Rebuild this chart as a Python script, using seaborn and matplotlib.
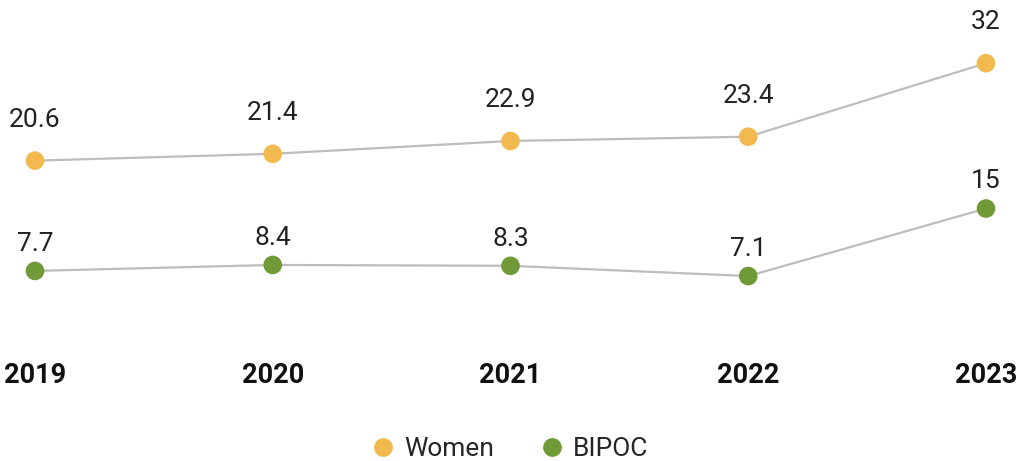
import matplotlib
matplotlib.use("Agg")
import matplotlib.pyplot as plt
import seaborn as sns
import pandas as pd
from matplotlib.lines import Line2D

years = ["2019", "2020", "2021", "2022", "2023"]
women = [20.6, 21.4, 22.9, 23.4, 32]
bipoc = [7.7, 8.4, 8.3, 7.1, 15]
series_names = ["Women", "BIPOC"]
colors = {"Women": "#F2B94F", "BIPOC": "#6F9A37"}

df = pd.DataFrame({
    "year": years * 2,
    "pos": list(range(len(years))) * 2,
    "value": women + bipoc,
    "series": ["Women"] * len(years) + ["BIPOC"] * len(years),
})

sns.set_theme(style="white")
plt.rcParams["font.family"] = ["Roboto", "DejaVu Sans"]

fig = plt.figure(figsize=(10.18, 4.61), dpi=100)
ax = fig.add_axes([0, 1 - 356 / 461, 1, 356 / 461])

for name in series_names:
    sub = df[df["series"] == name]
    sns.lineplot(data=sub, x="pos", y="value", color="#BDBDBD", linewidth=1.6,
                 ax=ax, legend=False, zorder=1)
sns.scatterplot(data=df, x="pos", y="value", hue="series", palette=colors,
                s=180, linewidth=0, ax=ax, legend=False, zorder=3, clip_on=False)

offsets = {"Women": 24.5, "BIPOC": 14.5}
for _, r in df.iterrows():
    v = r["value"]
    txt = f"{v:g}"
    ax.annotate(txt, (r["pos"], v), xytext=(0, offsets[r["series"]]),
                textcoords="offset points", ha="center", va="baseline",
                fontsize=19, color="#222222")

px_per_unit = (986 - 35) / 4
ax.set_xlim(-35 / px_per_unit, 4 + 32 / px_per_unit)
ax.set_ylim(-2.25, 39.39)
ax.set_xticks(range(len(years)))
ax.set_xticklabels(years, fontsize=19.5, fontweight="bold", color="#111111")
ax.tick_params(axis="x", length=0, pad=4)
ax.set_yticks([])
ax.set_xlabel("")
ax.set_ylabel("")
for s in ax.spines.values():
    s.set_visible(False)

handles = [Line2D([], [], marker="o", linestyle="", markersize=13.5,
                  markerfacecolor=colors[n], markeredgewidth=0, label=n)
           for n in series_names]
fig.legend(handles=handles, loc="center", bbox_to_anchor=(0.5, 1 - 449 / 461),
           ncol=2, frameon=False, fontsize=19, handletextpad=0.3,
           columnspacing=1.7, handlelength=1.0)

fig.savefig("out.png", dpi=100)
